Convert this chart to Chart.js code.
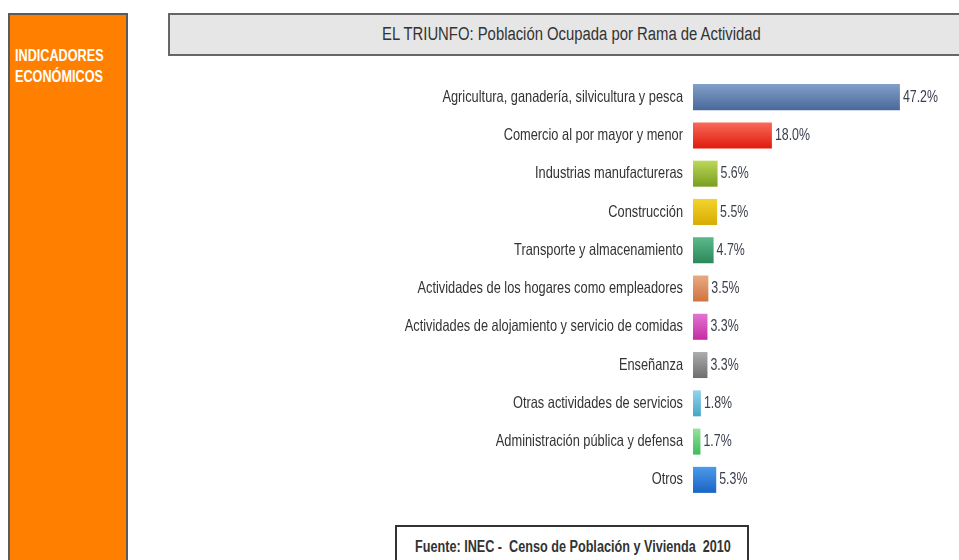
<!DOCTYPE html>
<html>
<head>
<meta charset="utf-8">
<script src="https://cdn.jsdelivr.net/npm/chart.js@4.4.0/dist/chart.umd.min.js"></script>
<style>
  html, body { margin: 0; padding: 0; background: #ffffff; width: 959px; height: 560px; overflow: hidden; }
  body { position: relative; font-family: "Liberation Sans", Arial, sans-serif; }
  .sq { display: inline-block; transform-origin: 0 50%; white-space: pre; }
  #panel { position: absolute; left: 8px; top: 13px; width: 120px; height: 560px; background: #ff8000; border: 2px solid #5a5a5a; box-sizing: border-box; }
  #panel .sq { position: absolute; left: 5px; top: 30px; color: #ffffff; font-weight: bold; font-size: 17px; line-height: 21px; transform: scaleX(0.745); transform-origin: 0 0; }
  #title { position: absolute; left: 168px; top: 13px; width: 808px; height: 43px; background: #e6e6e6; border: 2px solid #666666; box-sizing: border-box; }
  #title .sq { position: absolute; left: 212px; top: 9px; font-size: 18px; line-height: 21px; color: #333333; transform: scaleX(0.825); transform-origin: 0 0; }
  #source { position: absolute; left: 395px; top: 525px; width: 354px; height: 50px; border: 2px solid #333333; box-sizing: border-box; }
  #source .sq { position: absolute; left: 18px; top: 10px; font-weight: bold; font-size: 16px; line-height: 19px; color: #333333; transform: scaleX(0.79); transform-origin: 0 0; }
  #wrap { position: absolute; left: 0; top: 0; width: 959px; height: 560px; }
</style>
</head>
<body>
<div id="panel"><span class="sq">INDICADORES<br>ECONÓMICOS</span></div>
<div id="title"><span class="sq">EL TRIUNFO: Población Ocupada por Rama de Actividad</span></div>
<div id="source"><span class="sq">Fuente: INEC -  Censo de Población y Vivienda  2010</span></div>
<div id="wrap"><canvas id="c" width="959" height="560"></canvas></div>
<script>
const categories = [
  "Agricultura, ganadería, silvicultura y pesca",
  "Comercio al por mayor y menor",
  "Industrias manufactureras",
  "Construcción",
  "Transporte y almacenamiento",
  "Actividades de los hogares como empleadores",
  "Actividades de alojamiento y servicio de comidas",
  "Enseñanza",
  "Otras actividades de servicios",
  "Administración pública y defensa",
  "Otros"
];
const values = [47.2, 18.0, 5.6, 5.5, 4.7, 3.5, 3.3, 3.3, 1.8, 1.7, 5.3];
const topColors = ["#819fc8", "#f86a58", "#bcd858", "#f2d430", "#5cba8a", "#e8aa82", "#e274d2", "#acacac", "#96d4ea", "#96e29a", "#4c9aea"];
const bottomColors = ["#49699a", "#e01c0c", "#7a9e20", "#d8ac00", "#2c885a", "#d07440", "#c42ca4", "#6e6e6e", "#44a6c6", "#3cbc5c", "#1a64c4"];

const FONT = '"Liberation Sans", Arial, sans-serif';

function barGradient(ctx) {
  const chart = ctx.chart;
  const i = ctx.dataIndex;
  if (!chart.chartArea || !chart.scales.y || i === undefined) return topColors[i || 0];
  const y = chart.scales.y.getPixelForValue(i);
  const h = 13;
  const g = chart.ctx.createLinearGradient(0, y - h, 0, y + h);
  g.addColorStop(0, topColors[i]);
  g.addColorStop(1, bottomColors[i]);
  return g;
}

// Condensed text: draws the library's tick labels and the bar values with a horizontal squeeze
const condensedText = {
  id: 'condensedText',
  afterDraw(chart) {
    const c = chart.ctx;
    const ys = chart.scales.y;
    const meta = chart.getDatasetMeta(0);
    c.save();
    c.textBaseline = 'middle';
    // category labels
    c.font = '16.5px ' + FONT;
    c.fillStyle = '#333333';
    c.textAlign = 'right';
    ys.getLabels().forEach((lab, i) => {
      const y = ys.getPixelForTick(i);
      c.save();
      c.translate(ys.right - 10, y);
      c.scale(0.776, 1);
      c.fillText(lab, 0, 0);
      c.restore();
    });
    // value labels
    c.textAlign = 'left';
    c.fillStyle = '#3a3f4c';
    meta.data.forEach((bar, i) => {
      c.save();
      c.translate(bar.x + 3, bar.y);
      c.scale(0.75, 1);
      c.fillText(values[i].toFixed(1) + '%', 0, 0);
      c.restore();
    });
    c.restore();
  }
};

new Chart(document.getElementById('c'), {
  type: 'bar',
  data: {
    labels: categories,
    datasets: [{
      data: values,
      backgroundColor: barGradient,
      borderWidth: 0,
      barPercentage: 0.68,
      categoryPercentage: 1.0
    }]
  },
  plugins: [condensedText],
  options: {
    indexAxis: 'y',
    responsive: false,
    animation: false,
    layout: { padding: { top: 78, bottom: 61, left: 0, right: 3 } },
    plugins: { legend: { display: false }, tooltip: { enabled: false } },
    scales: {
      x: { display: false, min: 0, max: 60 },
      y: {
        afterFit(scale) { scale.width = 693; },
        grid: { display: false, drawTicks: false },
        border: { display: false },
        ticks: { display: false }
      }
    }
  }
});
</script>
</body>
</html>
